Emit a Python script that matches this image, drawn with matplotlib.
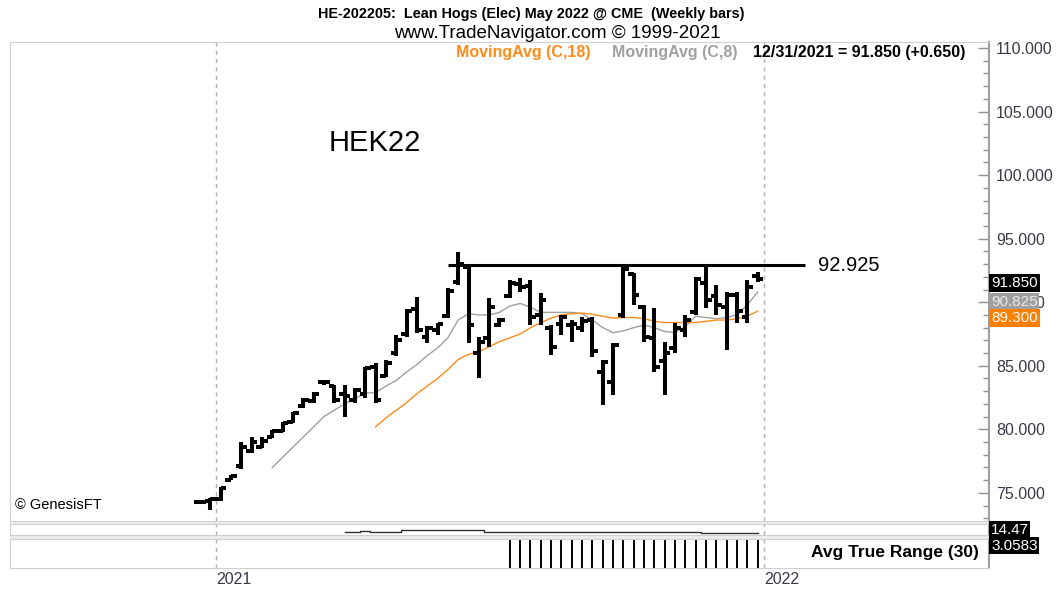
import matplotlib
matplotlib.use('Agg')
import matplotlib.pyplot as plt
import matplotlib.transforms as mtransforms
from matplotlib.patches import Rectangle
from matplotlib.ticker import MultipleLocator, FormatStrFormatter

plt.rcParams['font.family'] = ['Liberation Sans', 'DejaVu Sans']

# weekly OHLC bars, HE May 2022
opens  = [74.3, 74.4, 74.5, 76.0, 77.1, 78.3, 78.6, 79.4, 79.9, 80.6,
          81.8, 82.2, 83.7, 83.4, 82.8, 82.3, 82.8, 84.9, 84.2, 86.0,
          87.5, 89.5, 87.3, 87.8, 88.9, 91.6, 92.8, 86.0, 87.2, 88.2,
          90.5, 91.4, 91.3, 89.0, 88.0, 88.3, 88.2, 88.0, 88.6, 84.5,
          83.7, 89.0, 92.2, 89.6, 87.2, 85.4, 86.4, 87.8, 89.2, 91.5,
          90.5, 89.6, 90.6, 88.8, 92.1]
highs  = [74.4, 74.6, 75.5, 76.4, 79.0, 79.4, 79.4, 79.95, 80.6, 81.4,
          82.5, 82.9, 83.9, 83.5, 83.5, 83.25, 84.9, 85.2, 85.45, 87.4,
          89.5, 90.4, 88.1, 88.4, 91.1, 93.95, 92.9, 87.3, 90.3, 88.75,
          91.75, 91.9, 91.75, 90.7, 88.2, 89.0, 88.6, 88.8, 88.8, 85.45,
          86.8, 92.8, 92.3, 89.8, 89.55, 86.9, 88.4, 89.0, 92.0, 92.8,
          91.35, 90.8, 90.8, 91.75, 92.4]
lows   = [74.1, 73.65, 74.4, 76.0, 76.9, 78.1, 78.5, 79.3, 79.8, 80.5,
          81.7, 82.1, 83.5, 82.1, 81.0, 82.1, 82.5, 82.1, 84.1, 85.8,
          87.3, 87.6, 86.8, 87.4, 88.75, 91.35, 86.8, 84.0, 86.5, 88.05,
          90.3, 90.8, 88.2, 88.2, 85.85, 87.4, 86.9, 87.65, 85.7, 81.9,
          82.7, 88.75, 89.8, 86.9, 84.5, 82.7, 86.0, 87.3, 89.0, 89.55,
          89.0, 86.25, 88.4, 88.4, 91.6]
closes = [74.3, 74.5, 75.4, 76.3, 78.6, 79.0, 79.1, 79.9, 80.5, 81.3,
          82.3, 82.8, 83.7, 82.3, 82.6, 83.1, 84.8, 82.3, 85.2, 87.0,
          89.3, 87.8, 88.0, 88.3, 90.9, 93.0, 88.2, 86.9, 89.6, 88.6,
          91.5, 91.2, 88.8, 90.2, 86.5, 88.8, 88.3, 88.5, 86.2, 85.3,
          86.6, 92.6, 90.6, 87.3, 84.9, 86.0, 88.0, 88.6, 91.8, 90.2,
          89.8, 90.6, 89.3, 91.2, 91.85]

# moving averages as drawn (8 starts at bar 7, 18 starts at bar 17)
ma8_start = 7
ma8 = [77.0, 77.8, 78.6, 79.4, 80.2, 81.0, 81.5, 82.0, 82.4, 82.85,
       82.9, 83.4, 83.85, 84.5, 85.1, 85.8, 86.4, 87.2, 88.6, 89.1,
       89.0, 89.0, 89.2, 89.7, 89.9, 89.6, 89.2, 89.2, 89.2, 89.2,
       89.1, 88.6, 88.0, 87.6, 87.75, 88.0, 88.2, 88.0, 87.7, 87.6,
       88.1, 88.9, 88.8, 88.7, 88.8, 89.0, 89.8, 90.8]
ma18_start = 17
ma18 = [80.2, 80.9, 81.5, 82.1, 82.8, 83.4, 84.0, 84.7, 85.5, 85.9,
        86.1, 86.5, 86.9, 87.2, 87.5, 88.0, 88.4, 88.75, 89.0, 89.1,
        89.15, 89.05, 88.9, 88.75, 88.8, 88.8, 88.7, 88.5, 88.4, 88.4,
        88.4, 88.4, 88.5, 88.6, 88.6, 88.7, 88.9, 89.3]

resist_level = 92.925
resist_from, resist_to = 24, 58.6

# small upper study pane and Avg True Range (30) pane
band_start = 14
band_line = [14.1, 14.1, 14.5, 14.1, 14.1, 14.1, 14.8, 14.8, 14.8, 14.8,
             14.8, 14.8, 14.8, 14.8, 14.1, 14.1, 14.1, 14.1, 14.1, 14.1,
             14.1, 14.1, 14.1, 14.1, 14.1, 14.1, 14.1, 14.1, 14.1, 14.1,
             14.1, 14.1, 14.1, 14.1, 14.1, 13.8, 13.8, 13.8, 13.8, 13.8, 13.8]
atr_start = 30
atr30 = [3.32, 3.31, 3.30, 3.30, 3.29, 3.28, 3.27, 3.25, 3.24, 3.22,
         3.21, 3.19, 3.18, 3.17, 3.15, 3.14, 3.13, 3.12, 3.10, 3.09,
         3.08, 3.07, 3.07, 3.06, 3.0583]

year_pos = [1.55, 54.6]
year_lab = ['2021', '2022']

W, H = 1057, 590
fig = plt.figure(figsize=(W / 100, H / 100), dpi=100)
fig.patch.set_facecolor('white')

def box(x0, y0, x1, y1):
    return [x0 / W, 1 - y1 / H, (x1 - x0) / W, (y1 - y0) / H]

ax = fig.add_axes(box(10, 42, 989, 521))
ax1 = fig.add_axes(box(10, 524, 989, 535), sharex=ax)
ax2 = fig.add_axes(box(10, 539, 989, 568), sharex=ax)

for y0, y1 in [(521, 524), (535, 539)]:
    fig.add_artist(Rectangle((10 / W, 1 - y1 / H), 979 / W, (y1 - y0) / H,
                             transform=fig.transFigure, color='#ececec', zorder=0))

idx = list(range(len(closes)))
ax.vlines(idx, lows, highs, color='black', lw=2.9, zorder=4)
ax.hlines(opens, [i - 0.55 for i in idx], idx, color='black', lw=2.9, zorder=4)
ax.hlines(closes, idx, [i + 0.55 for i in idx], color='black', lw=2.9, zorder=4)

ax.plot(range(ma8_start, ma8_start + len(ma8)), ma8, color='#a0a0a0', lw=1.0, zorder=3)
ax.plot(range(ma18_start, ma18_start + len(ma18)), ma18, color='#ff8c1a', lw=1.0, zorder=3)
ax.hlines(resist_level, resist_from, resist_to, color='black', lw=2.2, zorder=5)
ax.text(resist_to + 1.2, resist_level, '92.925', fontsize=14.5, va='center', ha='left')

ax.set_xlim(-18.4, 76.4)
ax.set_ylim(72.79, 110.47)

for a in (ax, ax1, ax2):
    for yp in year_pos:
        a.axvline(yp, color='#b0b0b0', lw=1.0, ls=(0, (3, 3)), zorder=1)
    for s in ('top', 'left', 'bottom'):
        a.spines[s].set_color('#d0d0d0')
        a.spines[s].set_linewidth(0.8)
    a.spines['right'].set_color('#a0a0a0')
    a.spines['right'].set_linewidth(1.5)
    a.tick_params(axis='x', length=0, labelbottom=False)
    a.set_facecolor('white')

ax.yaxis.tick_right()
ax.yaxis.set_major_locator(MultipleLocator(5))
ax.yaxis.set_minor_locator(MultipleLocator(1))
ax.yaxis.set_major_formatter(FormatStrFormatter('%.3f'))
ax.tick_params(axis='y', which='major', direction='in', length=8, width=1,
               color='#909090', labelsize=11.5, labelcolor='#3a3a4a', pad=5)
ax.tick_params(axis='y', which='minor', direction='in', length=4, width=1, color='#909090')

# value tags on the price axis
tr = mtransforms.blended_transform_factory(ax.transAxes, ax.transData)
ax.text(1.002, 90.60, '90.825', transform=tr, fontsize=11, color='#e8e8e8', va='top',
        ha='left', bbox=dict(boxstyle='square,pad=0.1', fc='#a0a0a0', ec='none'),
        clip_on=False, zorder=6)
ax.text(1.002, 92.05, '91.850', transform=tr, fontsize=11, color='white', va='top',
        ha='left', bbox=dict(boxstyle='square,pad=0.15', fc='black', ec='none'),
        clip_on=False, zorder=7)
ax.text(1.002, 89.30, '89.300', transform=tr, fontsize=11, color='white', va='top',
        ha='left', bbox=dict(boxstyle='square,pad=0.15', fc='#ff8000', ec='none'),
        clip_on=False, zorder=8)

ax.text(0.325, 0.79, 'HEK22', transform=ax.transAxes, fontsize=21, va='center', ha='left')
ax.text(0.005, 0.018, '© GenesisFT', transform=ax.transAxes, fontsize=10.5, va='bottom', ha='left')

ax1.plot(range(band_start, band_start + len(band_line)), band_line, color='#303030',
         lw=1.0, drawstyle='steps-mid')
ax1.set_ylim(13, 17)
ax1.set_yticks([])
ax1.text(1.002, 0.5, '14.47', transform=ax1.transAxes, fontsize=11, color='white',
         va='center', ha='left', bbox=dict(boxstyle='square,pad=0.1', fc='black', ec='none'),
         clip_on=False)

ax2.vlines(range(atr_start, atr_start + len(atr30)), 0, atr30, color='black', lw=1.4)
ax2.set_ylim(0, 2.9)
ax2.set_yticks([])
ax2.text(0.99, 0.55, 'Avg True Range (30)', transform=ax2.transAxes, fontsize=12.5,
         fontweight='bold', va='center', ha='right')
ax2.text(1.002, 0.77, '3.0583', transform=ax2.transAxes, fontsize=11, color='white',
         va='center', ha='left', bbox=dict(boxstyle='square,pad=0.1', fc='black', ec='none'),
         clip_on=False)
ax2.set_xticks(year_pos)
ax2.set_xticklabels(year_lab)
ax2.tick_params(axis='x', labelbottom=True, length=0, labelsize=11.5,
                labelcolor='#3a3a4a', pad=3)
for lab in ax2.get_xticklabels():
    lab.set_ha('left')

# header
fig.text(531 / W, 1 - 14 / H, 'HE-202205:  Lean Hogs (Elec) May 2022 @ CME  (Weekly bars)',
         fontsize=10.4, fontweight='bold', ha='center', va='center')
fig.text(557 / W, 1 - 33 / H, 'www.TradeNavigator.com © 1999-2021',
         fontsize=13.5, ha='center', va='center')
fig.text(965 / W, 1 - 52 / H, '12/31/2021 = 91.850 (+0.650)', fontsize=11.5,
         fontweight='bold', ha='right', va='center')
fig.text(738 / W, 1 - 52 / H, 'MovingAvg (C,8)', fontsize=11.5, fontweight='bold',
         color='#a0a0a0', ha='right', va='center')
fig.text(590 / W, 1 - 52 / H, 'MovingAvg (C,18)', fontsize=11.5, fontweight='bold',
         color='#ff8c1a', ha='right', va='center')

fig.savefig('out.png', dpi=100)
